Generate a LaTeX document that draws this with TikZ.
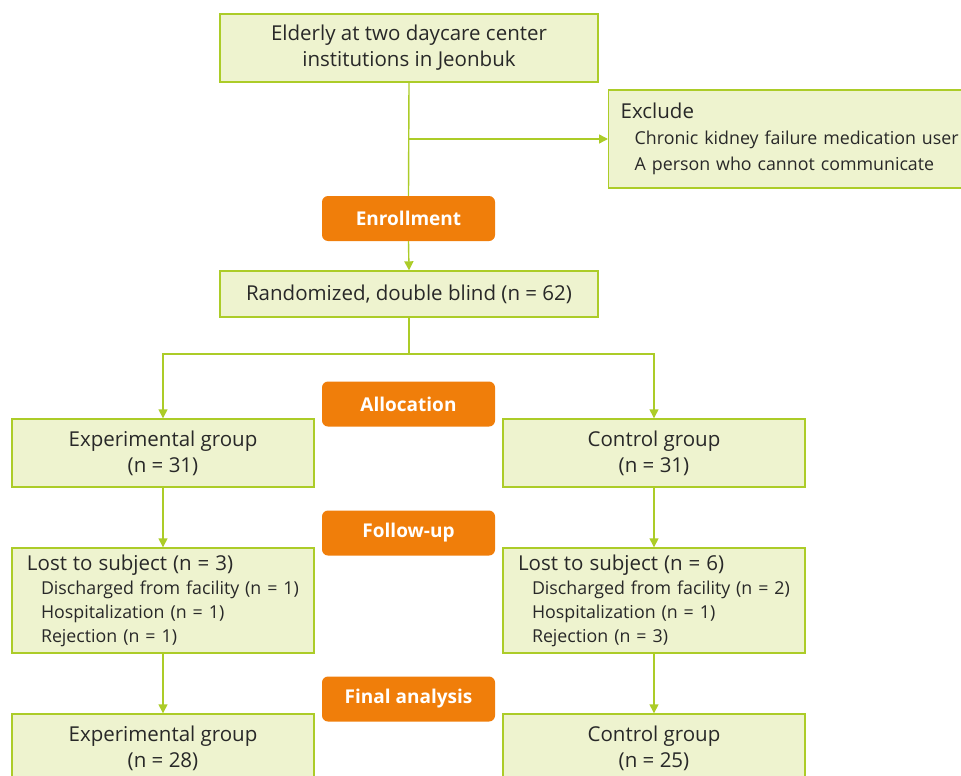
\documentclass[tikz,border=0pt]{standalone}
\usepackage{fontspec}
\setmainfont{Open Sans}
\usetikzlibrary{arrows.meta}
\definecolor{lfill}{RGB}{238,243,207}
\definecolor{lline}{RGB}{172,204,40}
\definecolor{orng}{RGB}{240,126,10}
\definecolor{txt}{RGB}{40,40,40}
\tikzset{
  box/.style={draw=lline, fill=lfill, line width=1.4pt, inner sep=0pt, text=txt, align=center,
    font=\fontsize{20.5}{26}\selectfont},
  lbox/.style={box, align=left, inner xsep=15pt, font=\fontsize{17.8}{24}\selectfont},
  phase/.style={fill=orng, rounded corners=6pt, text=white, minimum width=173pt, minimum height=45pt,
    font=\bfseries\fontsize{19}{22}\selectfont, inner sep=0pt},
  conn/.style={draw=lline, line width=1.4pt},
  arr/.style={conn, -{Triangle[width=9pt,length=9pt]}}
}
\begin{document}
\begin{tikzpicture}[x=1pt,y=-1pt]
\path[use as bounding box, clip] (0,0) rectangle (961,776);
\node[box, minimum width=378pt, minimum height=68pt] (top) at (409,48) {Elderly at two daycare center\\institutions in Jeonbuk};
\node[lbox, anchor=west, text width=346pt, inner xsep=12pt, minimum height=98pt, font=\fontsize{17.8}{26}\selectfont] (excl) at (608,139)
  {{\fontsize{20.5}{26}\selectfont Exclude}\\\hspace*{14pt}Chronic kidney failure medication user\\\hspace*{14pt}A person who cannot communicate};
\node[phase] (enr) at (408.5,218.5) {Enrollment};
\node[box, minimum width=378pt, minimum height=46pt] (rand) at (409,294) {Randomized, double blind (n = 62)};
\node[phase] (alloc) at (408.5,404) {Allocation};
\node[box, minimum width=302pt, minimum height=68pt] (exp1) at (163,453) {Experimental group\\(n = 31)};
\node[box, minimum width=302pt, minimum height=68pt] (ctl1) at (654,453) {Control group\\(n = 31)};
\node[phase] (fu) at (408.5,533) {Follow-up};
\node[lbox, text width=272pt, minimum height=105pt] (lost1) at (163,600.5)
  {{\fontsize{20.5}{24}\selectfont Lost to subject (n = 3)}\\\hspace*{14pt}Discharged from facility (n = 1)\\\hspace*{14pt}Hospitalization (n = 1)\\\hspace*{14pt}Rejection (n = 1)};
\node[lbox, text width=272pt, minimum height=105pt] (lost2) at (654,600.5)
  {{\fontsize{20.5}{24}\selectfont Lost to subject (n = 6)}\\\hspace*{14pt}Discharged from facility (n = 2)\\\hspace*{14pt}Hospitalization (n = 1)\\\hspace*{14pt}Rejection (n = 3)};
\node[phase] (fin) at (408.5,699) {Final analysis};
\node[box, minimum width=302pt, minimum height=68pt] (exp2) at (163,748) {Experimental group\\(n = 28)};
\node[box, minimum width=302pt, minimum height=68pt] (ctl2) at (654,748) {Control group\\(n = 25)};
\coordinate (split) at (409,354);
\draw[conn] (top.south) -- (enr.north);
\draw[arr] (top.south |- excl.west) -- (excl.west);
\draw[arr] (enr.south) -- (rand.north);
\draw[conn] (rand.south) -- (split);
\draw[arr] (split) -| (exp1.north);
\draw[arr] (split) -| (ctl1.north);
\draw[arr] (exp1.south) -- (lost1.north);
\draw[arr] (ctl1.south) -- (lost2.north);
\draw[arr] (lost1.south) -- (exp2.north);
\draw[arr] (lost2.south) -- (ctl2.north);
\end{tikzpicture}
\end{document}
